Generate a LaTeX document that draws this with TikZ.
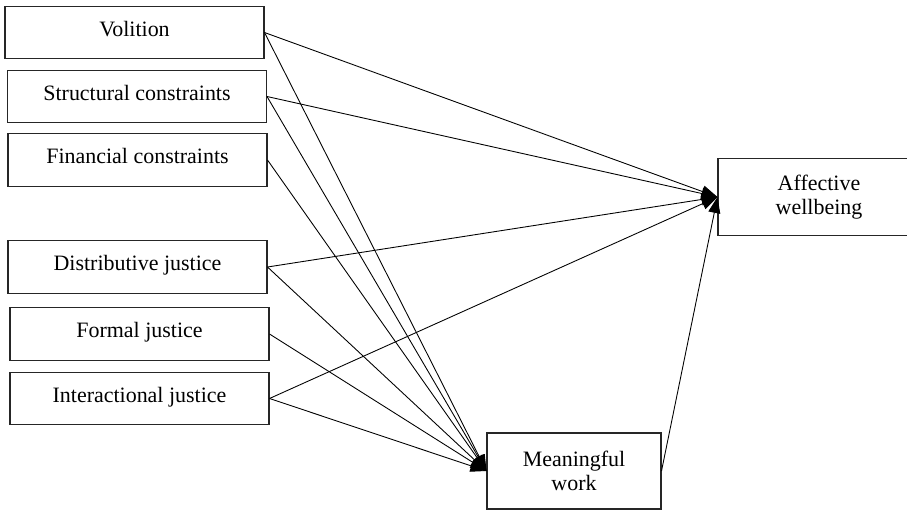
\documentclass[tikz,border=0pt]{standalone}
\usepackage{fontspec}
\setmainfont{Liberation Serif}
\usetikzlibrary{arrows.meta}

\begin{document}
\begin{tikzpicture}[x=0.02cm,y=-0.02cm,
  var/.style={draw=black!85,rectangle,line width=0.6pt,minimum width=5.18cm,minimum height=1.05cm,
    font=\fontsize{12.5}{13}\selectfont,text height=9pt,text depth=5pt,inner sep=0pt},
  outcome/.style={draw=black!85,rectangle,line width=0.6pt,minimum height=1.54cm,
    font=\fontsize{12.5}{14}\selectfont,align=center,inner sep=0pt},
  arr/.style={-{Triangle[length=3.2mm,width=2.4mm]},line width=0.5pt}
]
\useasboundingbox (0,0) rectangle (907,511);

% Predictors
\node[var] (volition) at (134.5,32.5) {Volition};
\node[var] (structural) at (137,96.5) {Structural constraints};
\node[var] (financial) at (137.5,160) {Financial constraints};
\node[var] (distributive) at (137.5,267) {Distributive justice};
\node[var] (formal) at (139.5,334) {Formal justice};
\node[var] (interactional) at (139.5,398.5) {Interactional justice};

% Outcomes
\node[outcome,minimum width=4.04cm] (affective) at (819,197) {Affective\\wellbeing};
\node[outcome,minimum width=3.48cm,minimum height=1.52cm] (meaningful) at (574,471) {Meaningful\\work};

% Paths to affective wellbeing
\draw[arr] (volition.east) -- (affective.west);
\draw[arr] (structural.east) -- (affective.west);
\draw[arr] (distributive.east) -- (affective.west);
\draw[arr] (interactional.east) -- (affective.west);
\draw[arr] (meaningful.east) -- (affective.west);

% Paths to meaningful work
\draw[arr] (volition.east) -- (meaningful.west);
\draw[arr] (structural.east) -- (meaningful.west);
\draw[arr] (financial.east) -- (meaningful.west);
\draw[arr] (distributive.east) -- (meaningful.west);
\draw[arr] (formal.east) -- (meaningful.west);
\draw[arr] (interactional.east) -- (meaningful.west);

\end{tikzpicture}
\end{document}
